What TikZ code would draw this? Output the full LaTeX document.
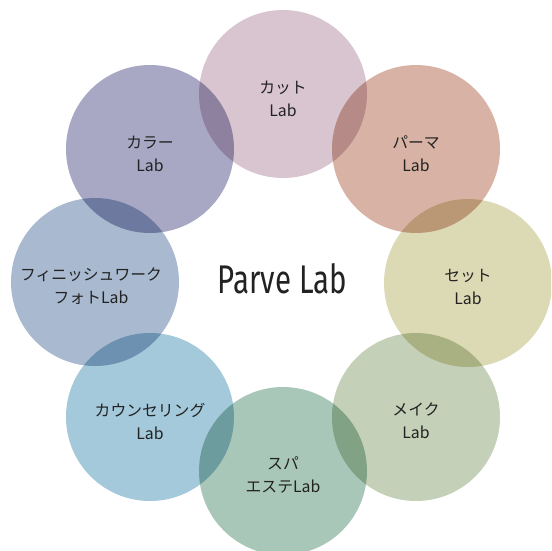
\documentclass[tikz,border=0pt]{standalone}
\usepackage{fontspec}
\newfontfamily\jp{Noto Sans CJK JP}
\newfontfamily\parvefont{Fira Sans}
\definecolor{ccut}{HTML}{D8C5D0}
\definecolor{cperm}{HTML}{D8B3A5}
\definecolor{cset}{HTML}{DCD9B5}
\definecolor{cmake}{HTML}{C5D0B8}
\definecolor{cspa}{HTML}{A9C7B9}
\definecolor{ccoun}{HTML}{A4C9DA}
\definecolor{cfin}{HTML}{A8B9D0}
\definecolor{ccol}{HTML}{A8A8C5}
\definecolor{textgray}{HTML}{222222}
\begin{document}
\begin{tikzpicture}[x=1pt,y=-1pt,
  bubble/.style={circle, minimum size=168pt, inner sep=0pt, draw=none},
  lbl/.style={font=\jp\fontsize{15.8}{23}\selectfont, align=center, text=textgray, inner sep=0pt}]
\clip (0,0) rectangle (551,551);
\begin{scope}[blend mode=multiply]
\node[bubble, fill=ccut]  (cut)  at (283,94)  {};
\node[bubble, fill=cperm] (perm) at (416,149) {};
\node[bubble, fill=cset]  (set)  at (468,283) {};
\node[bubble, fill=cmake] (make) at (416,417) {};
\node[bubble, fill=cspa]  (spa)  at (283,471) {};
\node[bubble, fill=ccoun] (coun) at (150,417) {};
\node[bubble, fill=cfin]  (fin)  at (95,282)  {};
\node[bubble, fill=ccol]  (col)  at (150,149) {};
\end{scope}
\node[lbl] (cutl)  at ([yshift=-5pt]cut.center)  {カット\\Lab};
\node[lbl] (perml) at ([yshift=-5pt]perm.center) {パーマ\\Lab};
\node[lbl] (setl)  at ([yshift=-4pt]set.center)  {セット\\Lab};
\node[lbl] (makel) at ([yshift=-4pt]make.center) {メイク\\Lab};
\node[lbl] (spal)  at ([yshift=-4pt]spa.center)  {スパ\\エステLab};
\node[lbl] (counl) at ([yshift=-4pt]coun.center) {カウンセリング\\Lab};
\node[lbl] (finl)  at ([xshift=-4pt,yshift=-4pt]fin.center) {フィニッシュワーク\\フォトLab};
\node[lbl] (coll)  at ([yshift=-5pt]col.center)  {カラー\\Lab};
\node[inner sep=0pt, text=textgray] (title) at (282.5,278.5) {\resizebox{129pt}{30pt}{\parvefont Parve Lab}};
\end{tikzpicture}
\end{document}
